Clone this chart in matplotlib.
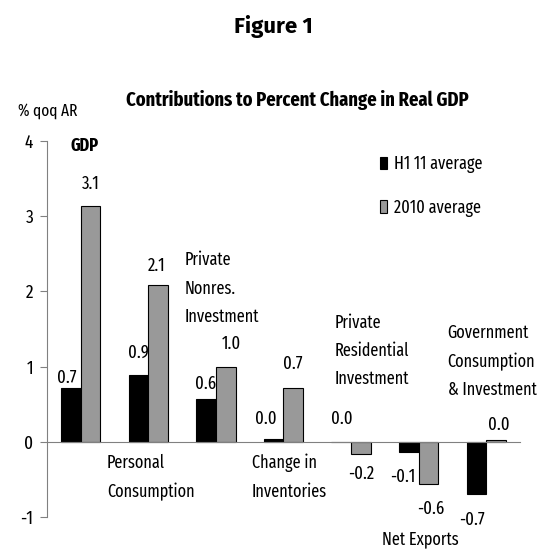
import numpy as np
import matplotlib
matplotlib.use("Agg")
from matplotlib import pyplot as plt

plt.rcParams['font.family'] = ['Fira Sans Extra Condensed', 'DejaVu Sans']

# contributions, percentage points (q/q annualised)
categories = ["GDP", "Personal\nConsumption", "Private\nNonres.\nInvestment",
              "Change in\nInventories", "Private\nResidential\nInvestment",
              "Net Exports", "Government\nConsumption\n& Investment"]
h1_11 = [0.71, 0.89, 0.57, 0.04, 0.0, -0.14, -0.70]
avg_2010 = [3.13, 2.08, 1.00, 0.72, -0.16, -0.56, 0.02]
series_names = ["H1 11 average", "2010 average"]
yticks = [-1, 0, 1, 2, 3, 4]

# label offsets from bar ends (pixels)
off_h1 = [(-4, 11), (0, 22), (-1, 15), (-8, 20), (1, 23), (-6, -24), (-4, -25)]
off_2010 = [(0, 23), (-1, 20), (6, 23), (-1, 24), (0, -20), (2, -25), (3, 15)]

# category name placement (x, y, ha) in data units
cat_pos = [(0.06, 3.93, 'center'), (0.39, -0.47, 'left'), (1.54, 2.04, 'left'),
           (2.53, -0.47, 'left'), (3.75, 1.21, 'left'), (5.02, -1.29, 'center'),
           (5.43, 1.07, 'left')]

fig = plt.figure(figsize=(5.47, 5.49), dpi=100)
ax = fig.add_axes([0.0859, 0.0583, 0.8647, 0.6849])

x = np.arange(len(categories))
w = 0.29
b1 = ax.bar(x - w / 2, h1_11, w, color='black', edgecolor='black', linewidth=0.8,
            label=series_names[0])
b2 = ax.bar(x + w / 2, avg_2010, w, color='#999999', edgecolor='black', linewidth=0.8,
            label=series_names[1])

for bars, vals, offs in [(b1, h1_11, off_h1), (b2, avg_2010, off_2010)]:
    for r, v, (dx, dy) in zip(bars, vals, offs):
        ax.annotate(f"{v:.1f}", (r.get_x() + r.get_width() / 2, v),
                    xytext=(dx, dy), textcoords='offset pixels',
                    ha='center', va='center', fontsize=13)

for name, (cx, cy, ha) in zip(categories, cat_pos):
    bold = name == "GDP"
    ax.text(cx, cy, name, ha=ha, va='center', fontsize=12.7,
            fontweight='bold' if bold else 'normal', linespacing=1.75)

ax.set_xlim(-0.5, 6.5)
ax.set_ylim(-1, 4)
ax.set_yticks(yticks)
ax.set_yticklabels([str(t) for t in yticks])
ax.tick_params(axis='y', length=5, width=0.8, color='#808080', labelsize=13.5, pad=5)
ax.set_xticks([])
for s in ['top', 'right']:
    ax.spines[s].set_visible(False)
ax.spines['left'].set_color('#808080')
ax.spines['bottom'].set_color('#808080')
ax.spines['bottom'].set_position(('data', 0))
ax.spines['left'].set_linewidth(0.8)
ax.spines['bottom'].set_linewidth(0.8)

ax.legend(loc='upper left', bbox_to_anchor=(0.704, 0.962), frameon=False,
          fontsize=12.7, handlelength=0.42, handletextpad=0.35, labelspacing=1.42,
          borderpad=0, borderaxespad=0)

fig.text(0.5, 0.952, "Figure 1", ha='center', va='center', fontsize=16,
         fontweight='bold', family=['Fira Sans', 'DejaVu Sans'])
fig.text(0.543, 0.818, "Contributions to Percent Change in Real GDP", ha='center',
         va='center', fontsize=14.5, fontweight='bold')
fig.text(0.033, 0.798, "% qoq AR", ha='left', va='center', fontsize=12)

fig.savefig("out.png", dpi=100)
